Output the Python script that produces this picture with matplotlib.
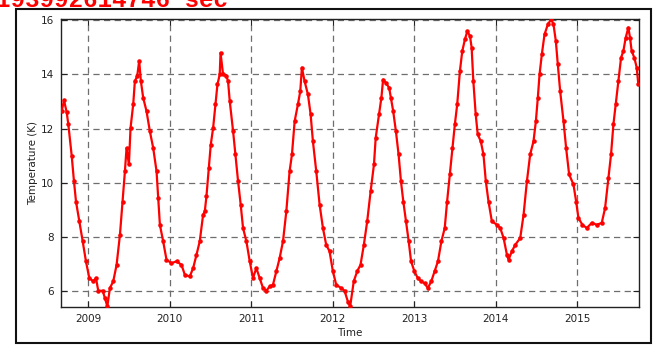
import matplotlib
matplotlib.use("Agg")
import matplotlib.pyplot as plt
from matplotlib.patches import Rectangle

# decimal year of each reading
years = [2008.673, 2008.702, 2008.735, 2008.755, 2008.796, 2008.824, 2008.849,
         2008.890, 2008.931, 2008.971, 2009.012, 2009.061, 2009.094, 2009.122,
         2009.176, 2009.204, 2009.233, 2009.265, 2009.306, 2009.347, 2009.388,
         2009.420, 2009.449, 2009.469, 2009.498, 2009.518, 2009.551, 2009.571,
         2009.600, 2009.624, 2009.645, 2009.673, 2009.714, 2009.755, 2009.796,
         2009.837, 2009.857, 2009.878, 2009.918, 2009.959, 2010.020, 2010.082,
         2010.143, 2010.184, 2010.245, 2010.286, 2010.327, 2010.367, 2010.408,
         2010.429, 2010.449, 2010.478, 2010.502, 2010.531, 2010.559, 2010.584,
         2010.612, 2010.622, 2010.653, 2010.694, 2010.714, 2010.735, 2010.776,
         2010.804, 2010.837, 2010.869, 2010.898, 2010.939, 2010.980, 2011.020,
         2011.061, 2011.102, 2011.143, 2011.184, 2011.224, 2011.265, 2011.306,
         2011.347, 2011.388, 2011.429, 2011.469, 2011.498, 2011.531, 2011.571,
         2011.600, 2011.620, 2011.653, 2011.694, 2011.727, 2011.755, 2011.796,
         2011.837, 2011.878, 2011.918, 2011.959, 2012.000, 2012.041, 2012.102,
         2012.143, 2012.184, 2012.212, 2012.256, 2012.298, 2012.339, 2012.380,
         2012.421, 2012.463, 2012.504, 2012.525, 2012.566, 2012.595, 2012.616,
         2012.649, 2012.690, 2012.711, 2012.740, 2012.773, 2012.806, 2012.835,
         2012.864, 2012.897, 2012.930, 2012.959, 2013.000, 2013.041, 2013.083,
         2013.124, 2013.165, 2013.207, 2013.248, 2013.289, 2013.331, 2013.372,
         2013.401, 2013.434, 2013.467, 2013.496, 2013.525, 2013.558, 2013.587,
         2013.620, 2013.649, 2013.682, 2013.702, 2013.723, 2013.752, 2013.777,
         2013.814, 2013.847, 2013.876, 2013.909, 2013.950, 2014.012, 2014.053,
         2014.094, 2014.135, 2014.155, 2014.196, 2014.237, 2014.298, 2014.339,
         2014.380, 2014.420, 2014.461, 2014.490, 2014.514, 2014.535, 2014.563,
         2014.596, 2014.637, 2014.678, 2014.706, 2014.735, 2014.759, 2014.788,
         2014.829, 2014.861, 2014.898, 2014.951, 2014.984, 2015.012, 2015.061,
         2015.114, 2015.176, 2015.237, 2015.298, 2015.339, 2015.380, 2015.412,
         2015.441, 2015.469, 2015.502, 2015.535, 2015.563, 2015.592, 2015.624,
         2015.645, 2015.665, 2015.698, 2015.727, 2015.747]

temps = [12.64, 13.04, 12.60, 12.15, 11.00, 10.05, 9.30,
         8.57, 7.83, 7.09, 6.47, 6.35, 6.47, 6.00,
         6.00, 5.73, 5.42, 6.10, 6.35, 6.96, 8.07,
         9.30, 10.42, 11.28, 10.67, 12.02, 12.90, 13.75,
         13.94, 14.50, 13.75, 13.14, 12.64, 11.90, 11.28,
         10.42, 9.43, 8.44, 7.83, 7.15, 7.02, 7.09,
         6.96, 6.59, 6.53, 6.84, 7.33, 7.83, 8.81,
         8.94, 9.49, 10.54, 11.40, 12.02, 12.89, 13.63,
         14.00, 14.80, 14.00, 13.94, 13.75, 13.01, 11.90,
         11.04, 10.05, 9.19, 8.32, 7.83, 7.09, 6.47,
         6.84, 6.47, 6.10, 6.00, 6.16, 6.22, 6.72,
         7.21, 7.83, 8.94, 10.42, 11.04, 12.27, 12.89,
         13.38, 14.25, 13.75, 13.26, 12.52, 11.53, 10.42,
         9.19, 8.32, 7.70, 7.46, 6.72, 6.22, 6.10,
         6.00, 5.60, 5.42, 6.35, 6.72, 6.96, 7.70,
         8.57, 9.68, 10.67, 11.65, 12.52, 13.14, 13.81,
         13.69, 13.51, 13.14, 12.64, 11.90, 11.04, 10.05,
         9.30, 8.57, 7.83, 7.09, 6.72, 6.47, 6.35,
         6.28, 6.10, 6.35, 6.72, 7.09, 7.83, 8.32,
         9.30, 10.30, 11.28, 12.15, 12.89, 14.12, 14.86,
         15.30, 15.60, 15.42, 14.99, 13.75, 12.52, 11.78,
         11.53, 11.04, 10.05, 9.30, 8.57, 8.44, 8.32,
         7.95, 7.33, 7.15, 7.46, 7.70, 7.95, 8.81,
         10.05, 11.04, 11.53, 12.27, 13.14, 14.00, 14.74,
         15.48, 15.85, 16.04, 15.85, 15.23, 14.37, 13.38,
         12.27, 11.28, 10.30, 9.93, 9.30, 8.69, 8.44,
         8.32, 8.51, 8.44, 8.51, 9.06, 10.17, 11.04,
         12.15, 12.89, 13.75, 14.62, 14.86, 15.36, 15.73,
         15.36, 14.86, 14.62, 14.25, 13.63]

year_ticks = [2009, 2010, 2011, 2012, 2013, 2014, 2015]
temp_ticks = [6, 8, 10, 12, 14, 16]
banner = "193992614746 sec"

plt.rcParams['font.family'] = ['DejaVu Sans']

fig = plt.figure(figsize=(6.54, 3.47), dpi=100)
ax = fig.add_axes([61 / 654, 1 - 307 / 347, 578 / 654, 288 / 347])

ax.plot(years, temps, color='red', linestyle='-', linewidth=1.6,
        marker='.', markersize=4.5, zorder=3)

ax.set_xlim(2008.665, 2015.755)
ax.set_ylim(5.4, 16.05)
ax.set_xticks(year_ticks)
ax.set_xticklabels([str(y) for y in year_ticks])
ax.set_yticks(temp_ticks)
ax.tick_params(direction='in', top=True, right=True, labelsize=7.5,
               length=4, width=0.8, colors='#222222', pad=5)
for s in ax.spines.values():
    s.set_linewidth(1.0)
    s.set_color('#222222')
ax.grid(True, color='#6e6e6e', linestyle='--', linewidth=0.9, dashes=(5, 3.5))
ax.set_axisbelow(True)
ax.set_xlabel('Time', fontsize=7.5, color='#222222', labelpad=3)
ax.set_ylabel('Temperature (K)', fontsize=7.5, color='#222222', labelpad=2)

# frame around the output cell
fig.patches.append(Rectangle((16 / 654, 1 - 343 / 347), 635 / 654, 334 / 347,
                             transform=fig.transFigure, fill=False,
                             edgecolor='#111111', linewidth=1.5))

# banner is cut off by the top edge, as in the source screenshot
fig.text(-0.006, 1 - 7 / 347, banner, color='red', fontsize=17.5,
         family='Liberation Mono', weight='bold', va='baseline', ha='left')

fig.savefig('out.png', dpi=100)
